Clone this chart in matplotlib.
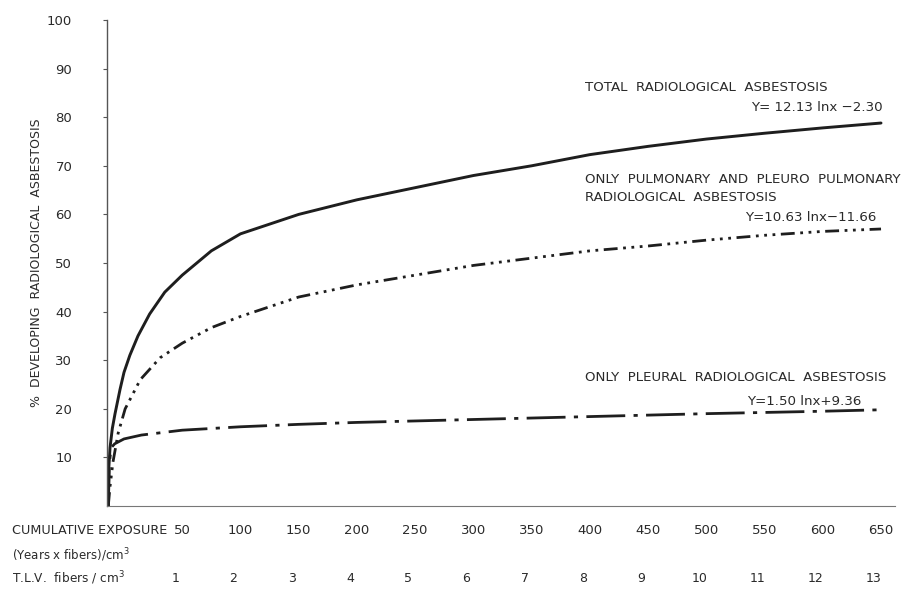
import numpy as np
import matplotlib
matplotlib.use("Agg")
import matplotlib.pyplot as plt
import matplotlib.transforms as mtransforms

# values (x in cumulative exposure units)
x_total = [-13.5, -13, -12, -10, -7.7, -3.4, 0, 5, 12, 22, 35, 50, 75, 100, 150, 200, 250, 300, 350, 400, 450, 500, 550, 600, 650]
y_total = [0, 8, 12, 16, 19, 24, 27.5, 31, 35, 39.5, 44, 47.5, 52.5, 56, 60, 63, 65.5, 68, 70, 72.3, 74, 75.5, 76.7, 77.8, 78.8]

x_pulm = [-13.5, -12, -9.5, -5, 1, 14, 31, 50, 75, 100, 150, 200, 250, 300, 350, 400, 450, 500, 550, 600, 650]
y_pulm = [0, 4, 9, 15, 20, 26, 30.5, 33.5, 36.7, 39, 43, 45.5, 47.5, 49.5, 51, 52.5, 53.5, 54.7, 55.7, 56.5, 57]

x_pleu = [-13.5, -12.5, -11, -8, 0, 15, 50, 100, 150, 200, 300, 400, 500, 600, 650]
y_pleu = [0, 9, 12, 12.8, 13.8, 14.6, 15.6, 16.3, 16.8, 17.2, 17.8, 18.4, 19, 19.5, 19.8]

cum_ticks = [50, 100, 150, 200, 250, 300, 350, 400, 450, 500, 550, 600, 650]
tlv_labels = ["1", "2", "3", "4", "5", "6", "7", "8", "9", "10", "11", "12", "13"]
y_ticks = [10, 20, 30, 40, 50, 60, 70, 80, 90, 100]

ink = "#1e1e1e"
txt = "#2a2a2a"

fig = plt.figure(figsize=(9.09, 5.89), dpi=100)
ax = fig.add_axes([107/909, (589-506)/589, (895-107)/909, (506-20)/589])

ax.plot(x_total, y_total, color=ink, lw=2.1, solid_capstyle="round")
ax.plot(x_pulm, y_pulm, color=ink, lw=2.0, dashes=(5, 2, 1, 2, 1, 2, 1, 2))
ax.plot(x_pleu, y_pleu, color=ink, lw=2.0, dashes=(14, 3, 1.5, 3))

ax.set_xlim(-14.6, 662)
ax.set_ylim(0, 100)

for s in ["top", "right"]:
    ax.spines[s].set_visible(False)
ax.spines["left"].set_color("#555555")
ax.spines["left"].set_linewidth(1.0)
ax.spines["bottom"].set_color("#777777")
ax.spines["bottom"].set_linewidth(0.8)

ax.set_yticks(y_ticks)
ax.tick_params(axis="y", length=3, width=0.8, color="#555555", pad=22,
               labelsize=9.5, labelcolor=txt)
ax.set_xticks([])

ax.set_ylabel("%  DEVELOPING  RADIOLOGICAL  ASBESTOSIS", fontsize=9,
              color=txt, labelpad=3)

# bottom rows of labels
blend = mtransforms.blended_transform_factory(ax.transData, fig.transFigure)
row1, row2, row3 = 1 - 530/589, 1 - 555/589, 1 - 578/589
fig.text(12/909, row1, "CUMULATIVE EXPOSURE", fontsize=9.2, color=txt, va="center")
fig.text(12/909, row2, "(Years x fibers)/cm$^3$", fontsize=8.5, color=txt, va="center")
fig.text(12/909, row3, "T.L.V.  fibers / cm$^3$", fontsize=8.7, color=txt, va="center")
for v in cum_ticks:
    ax.text(v, row1, str(v), transform=blend, ha="center", va="center",
            fontsize=9.5, color=txt)
for v, lab in zip(cum_ticks, tlv_labels):
    ax.text(v - 6, row3, lab, transform=blend, ha="center", va="center",
            fontsize=9, color=txt)

# curve annotations
kw = dict(fontsize=9.6, color=txt, ha="left", va="center")
ax.text(396, 86.2, "TOTAL  RADIOLOGICAL  ASBESTOSIS", **kw)
ax.text(538, 82.0, "Y= 12.13 lnx \u22122.30", **kw)
ax.text(396, 67.1, "ONLY  PULMONARY  AND  PLEURO  PULMONARY", **kw)
ax.text(396, 63.4, "RADIOLOGICAL  ASBESTOSIS", **kw)
ax.text(533, 59.3, "Y=10.63 lnx\u221211.66", **kw)
ax.text(396, 26.5, "ONLY  PLEURAL  RADIOLOGICAL  ASBESTOSIS", **kw)
ax.text(535, 21.4, "Y=1.50 lnx+9.36", **kw)

fig.savefig("out.png", dpi=100)
